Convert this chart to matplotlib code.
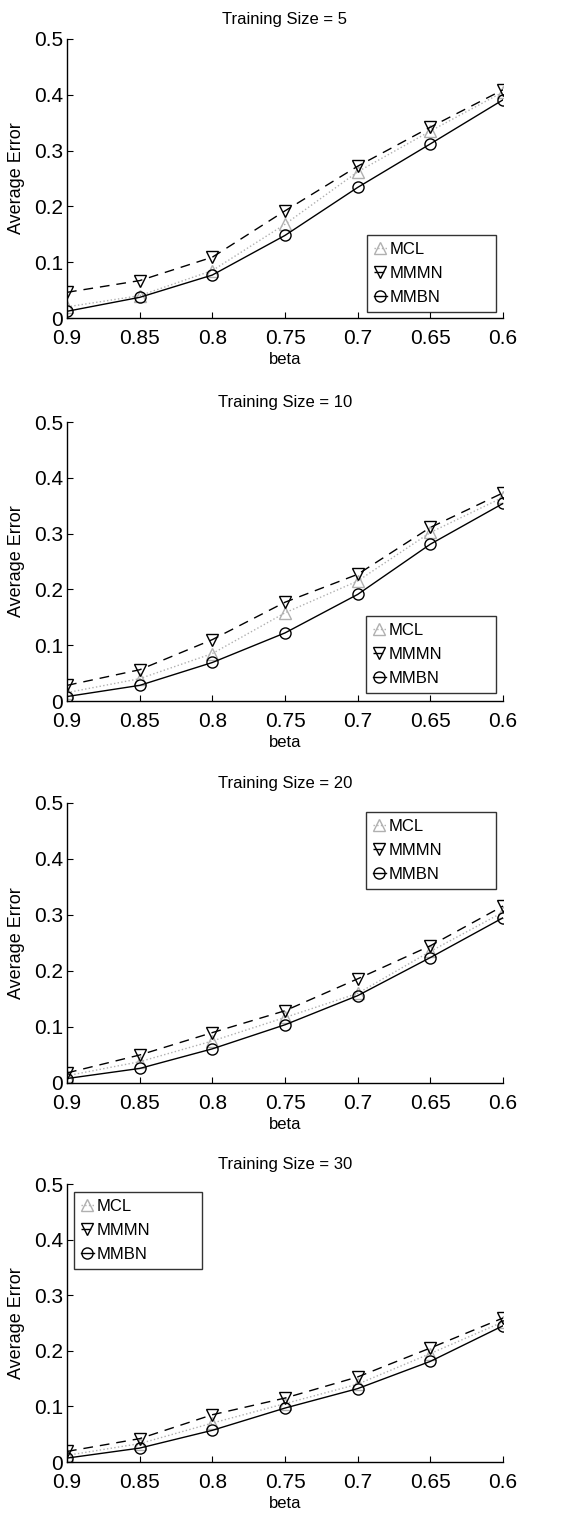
import matplotlib
matplotlib.use("Agg")
import matplotlib.pyplot as plt

plt.rcParams["font.family"] = ["Liberation Sans", "DejaVu Sans"]

beta = [0.9, 0.85, 0.8, 0.75, 0.7, 0.65, 0.6]
beta_labels = ["0.9", "0.85", "0.8", "0.75", "0.7", "0.65", "0.6"]
training_sizes = [5, 10, 20, 30]

# average error per training size, one list per method
mcl = [
    [0.020, 0.040, 0.085, 0.168, 0.262, 0.335, 0.405],
    [0.015, 0.040, 0.085, 0.158, 0.215, 0.302, 0.365],
    [0.013, 0.038, 0.075, 0.117, 0.160, 0.235, 0.305],
    [0.012, 0.033, 0.070, 0.105, 0.140, 0.195, 0.252],
]
mmmn = [
    [0.046, 0.067, 0.109, 0.192, 0.272, 0.342, 0.409],
    [0.028, 0.056, 0.110, 0.177, 0.227, 0.311, 0.373],
    [0.018, 0.050, 0.090, 0.129, 0.186, 0.245, 0.316],
    [0.019, 0.042, 0.085, 0.115, 0.153, 0.205, 0.259],
]
mmbn = [
    [0.012, 0.037, 0.077, 0.148, 0.234, 0.312, 0.391],
    [0.008, 0.028, 0.069, 0.122, 0.191, 0.281, 0.354],
    [0.008, 0.026, 0.061, 0.104, 0.156, 0.224, 0.295],
    [0.007, 0.025, 0.057, 0.097, 0.132, 0.181, 0.245],
]

W, H = 580, 1514
fig = plt.figure(figsize=(W / 100, H / 100), dpi=100)

# axes boxes in pixels: (top, bottom)
boxes = [(39, 318), (422, 701), (803, 1083), (1184, 1462)]
left, right = 67, 503

# legend placement (loc, anchor box in axes fraction), stretched wider than the text
legend_specs = [
    ("lower left", (0.688, 0.022, 0.296, 0.4)),
    ("lower left", (0.686, 0.029, 0.298, 0.4)),
    ("upper left", (0.686, 0.5, 0.298, 0.468)),
    ("upper left", (0.016, 0.5, 0.294, 0.471)),
]

for i, (top, bottom) in enumerate(boxes):
    ax = fig.add_axes([left / W, 1 - bottom / H, (right - left) / W, (bottom - top) / H])

    ax.plot(beta, mcl[i], linestyle=":", color="#b0b0b0", linewidth=1.0,
            marker="^", markersize=8, markerfacecolor="none",
            markeredgecolor="#b0b0b0", label="MCL")
    ax.plot(beta, mmmn[i], linestyle=(0, (7, 5)), color="black", linewidth=1.0,
            marker="v", markersize=9, markerfacecolor="none",
            markeredgecolor="black", markeredgewidth=1.0, label="MMMN")
    ax.plot(beta, mmbn[i], linestyle="-", color="black", linewidth=1.0,
            marker="o", markersize=8, markerfacecolor="none",
            markeredgecolor="black", markeredgewidth=1.0, label="MMBN")

    ax.set_xlim(0.9, 0.6)
    ax.set_ylim(0, 0.5)
    ax.set_xticks(beta)
    ax.set_xticklabels(beta_labels)
    ax.set_yticks([0, 0.1, 0.2, 0.3, 0.4, 0.5])
    ax.set_yticklabels(["0", "0.1", "0.2", "0.3", "0.4", "0.5"])
    ax.tick_params(direction="in", length=4, labelsize=15)
    ax.tick_params(axis="x", pad=8)
    ax.tick_params(axis="y", pad=3)

    for side in ("top", "right"):
        ax.spines[side].set_visible(False)
    for side in ("left", "bottom"):
        ax.spines[side].set_linewidth(1.0)

    ax.set_title(f"Training Size = {training_sizes[i]}", fontsize=12, pad=11)
    ax.set_xlabel("beta", fontsize=12, labelpad=3)
    ax.set_ylabel("Average Error", fontsize=13, labelpad=6)

    loc, anchor = legend_specs[i]
    leg = ax.legend(loc=loc, bbox_to_anchor=anchor, mode="expand", borderaxespad=0,
                    fontsize=12, frameon=True, fancybox=False, edgecolor="black",
                    handlelength=0.8, handletextpad=0.15, borderpad=0.4,
                    labelspacing=0.55)
    leg.get_frame().set_linewidth(1.0)

fig.savefig("out.png", dpi=100)
